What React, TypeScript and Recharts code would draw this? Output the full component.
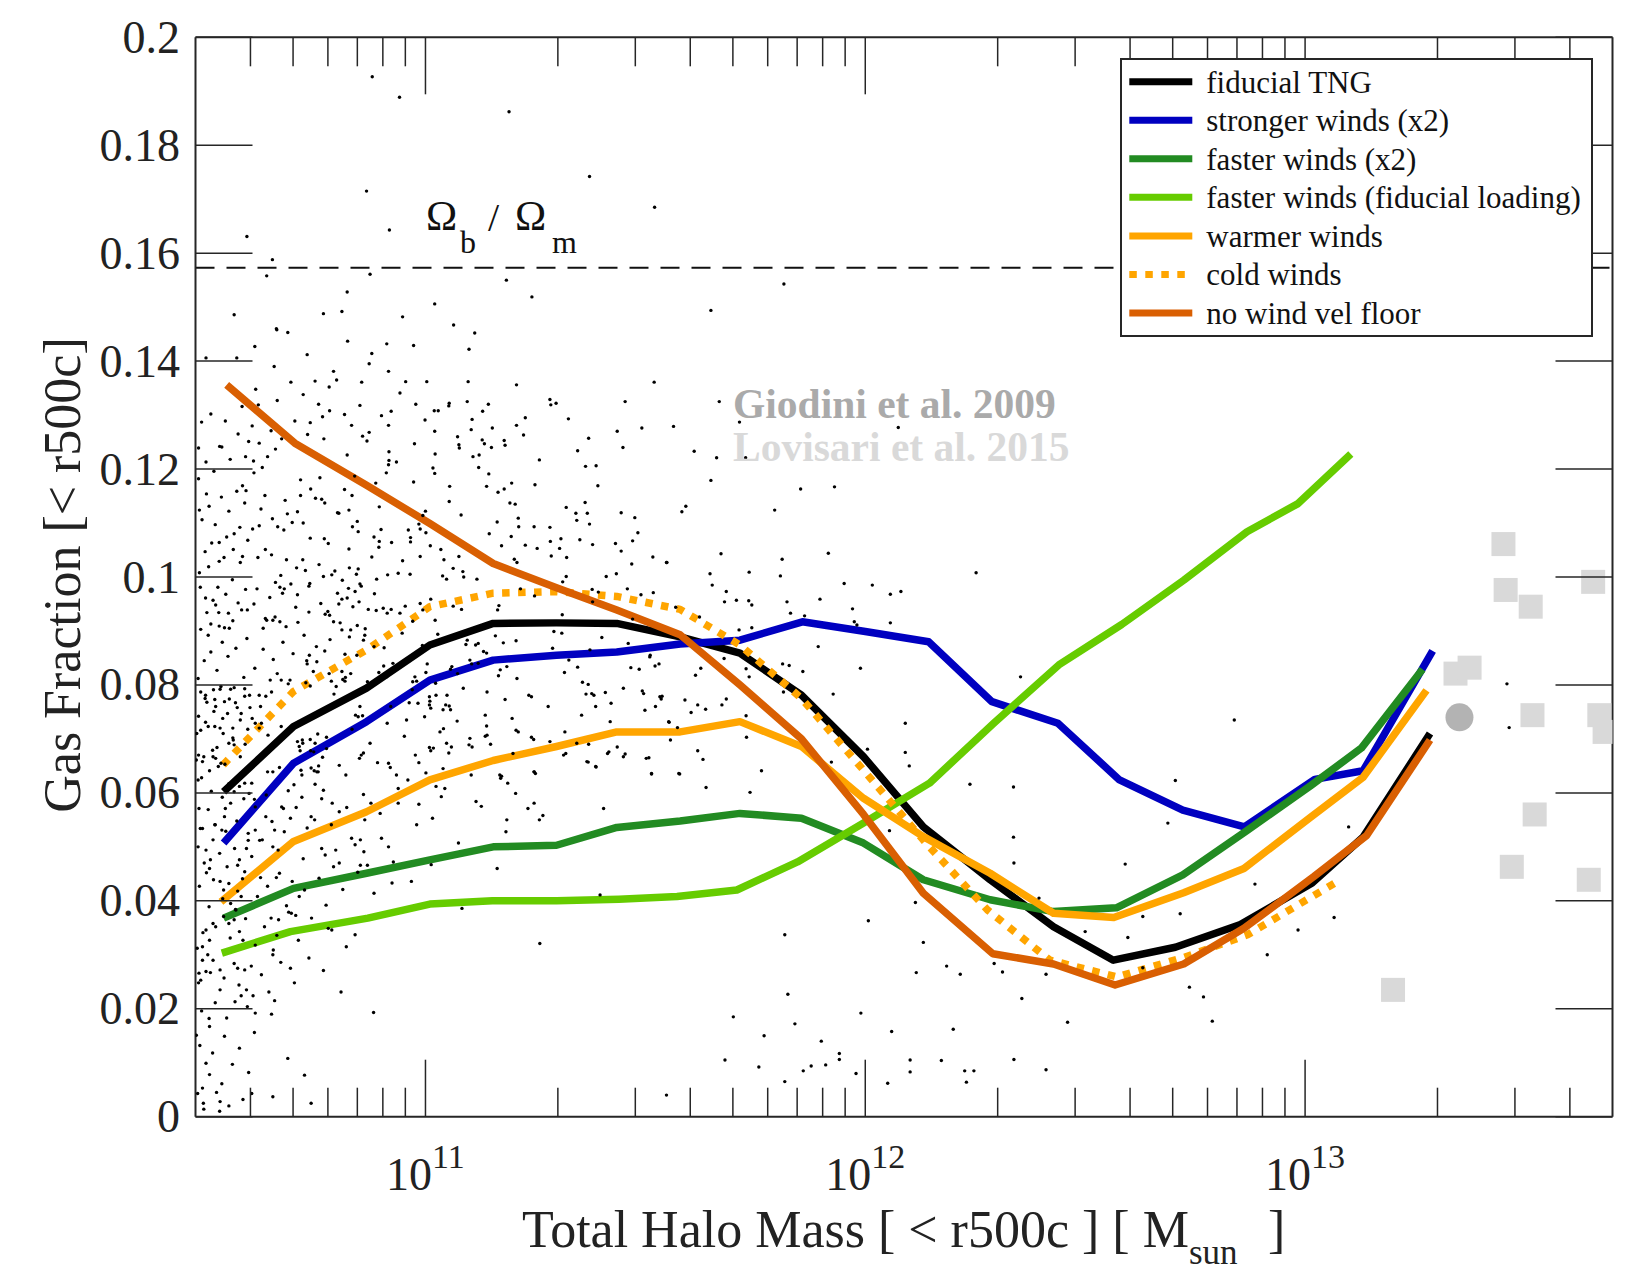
import React from 'react';
import { ComposedChart, Line, Scatter, XAxis, YAxis, ReferenceLine, Legend } from 'recharts';

const SERIF = "'Liberation Serif', 'Times New Roman', Times, serif";
const AXIS = '#262626';

// ---- axes ----
const X_MIN = Math.log10(3e10);
const X_MAX = Math.log10(5e13);
const MAJOR_MASS_TICKS = [1e11, 1e12, 1e13];
const MINOR_MASS_TICKS = [4e10, 5e10, 6e10, 7e10, 8e10, 9e10, 2e11, 3e11, 4e11, 5e11, 6e11, 7e11, 8e11, 9e11, 2e12, 3e12, 4e12, 5e12, 6e12, 7e12, 8e12, 9e12, 2e13, 3e13, 4e13];
const Y_TICKS = [0, 0.02, 0.04, 0.06, 0.08, 0.1, 0.12, 0.14, 0.16, 0.18, 0.2];
const OMEGA_B_OVER_M = 0.1573;

// ---- series: [log10 M500c, gas fraction] ----
const fiducialTNG = [[10.541,0.0602],[10.700,0.0723],[10.866,0.0794],[11.010,0.0874],[11.154,0.0914],[11.298,0.0915],[11.435,0.0914],[11.579,0.0889],[11.715,0.0859],[11.855,0.0781],[11.996,0.0667],[12.132,0.0537],[12.284,0.0439],[12.428,0.0352],[12.564,0.0290],[12.705,0.0314],[12.853,0.0356],[13.016,0.0433],[13.132,0.0518],[13.284,0.0710]];
const strongerWinds = [[10.541,0.0507],[10.700,0.0655],[10.866,0.0732],[11.010,0.0809],[11.154,0.0846],[11.298,0.0855],[11.435,0.0861],[11.579,0.0876],[11.715,0.0883],[11.857,0.0917],[12.000,0.0899],[12.144,0.0880],[12.288,0.0769],[12.438,0.0729],[12.578,0.0624],[12.722,0.0568],[12.862,0.0537],[13.022,0.0625],[13.132,0.0641],[13.290,0.0863]];
const fasterWinds = [[10.541,0.0368],[10.700,0.0423],[10.866,0.0451],[11.010,0.0476],[11.154,0.0500],[11.298,0.0503],[11.435,0.0536],[11.579,0.0548],[11.715,0.0562],[11.855,0.0553],[11.996,0.0507],[12.132,0.0439],[12.284,0.0402],[12.428,0.0380],[12.571,0.0387],[12.722,0.0448],[12.866,0.0529],[13.012,0.0613],[13.128,0.0683],[13.267,0.0829]];
const fasterWindsFidLoading = [[10.537,0.0303],[10.693,0.0343],[10.869,0.0368],[11.010,0.0394],[11.152,0.0400],[11.298,0.0400],[11.440,0.0403],[11.572,0.0408],[11.708,0.0420],[11.846,0.0472],[11.996,0.0544],[12.146,0.0618],[12.292,0.0729],[12.440,0.0837],[12.583,0.0912],[12.724,0.0994],[12.868,0.1084],[12.984,0.1136],[13.104,0.1228]];
const warmerWinds = [[10.535,0.0398],[10.700,0.0510],[10.866,0.0565],[11.010,0.0624],[11.154,0.0660],[11.298,0.0686],[11.435,0.0713],[11.579,0.0713],[11.715,0.0732],[11.855,0.0686],[11.996,0.0590],[12.132,0.0519],[12.284,0.0451],[12.428,0.0377],[12.565,0.0369],[12.724,0.0415],[12.861,0.0460],[13.011,0.0554],[13.132,0.0629],[13.276,0.0790]];
const coldWinds = [[10.540,0.0652],[10.700,0.0788],[10.866,0.0865],[11.010,0.0945],[11.154,0.0970],[11.298,0.0973],[11.435,0.0964],[11.579,0.0940],[11.715,0.0874],[11.855,0.0775],[11.996,0.0642],[12.138,0.0507],[12.278,0.0383],[12.420,0.0290],[12.572,0.0259],[12.724,0.0295],[12.869,0.0337],[13.068,0.0433]];
const noWindVelFloor = [[10.548,0.1356],[10.703,0.1248],[10.866,0.1170],[11.010,0.1099],[11.154,0.1025],[11.298,0.0980],[11.435,0.0939],[11.579,0.0893],[11.715,0.0800],[11.855,0.0700],[11.996,0.0560],[12.132,0.0414],[12.290,0.0302],[12.428,0.0283],[12.568,0.0244],[12.724,0.0283],[12.861,0.0349],[13.020,0.0445],[13.140,0.0521],[13.284,0.0698]];

// ---- observations ----
const giodini2009 = [[13.351,0.0740]];
const lovisari2015 = [[13.451,0.1061],[13.456,0.0976],[13.513,0.0945],[13.655,0.0991],[13.342,0.0821],[13.374,0.0832],[13.517,0.0744],[13.669,0.0744],[13.681,0.0713],[13.522,0.0560],[13.470,0.0463],[13.645,0.0439],[13.200,0.0235]];

// ---- individual haloes (fiducial TNG) ----
const haloScatter = [
[10.879,0.1927],[10.941,0.1889],[11.19,0.1862],[11.373,0.1742],[10.866,0.1715],[10.918,0.1643],[10.594,0.1631],[10.639,0.1558],[11.184,0.155],[11.242,0.1519],[10.822,0.1528],[10.81,0.1492],[10.565,0.1486],[10.661,0.146],[10.948,0.1482],[11.064,0.1467],[11.521,0.1685],[11.815,0.1543],[11.649,0.1494],
[11.668,0.1325],[11.714,0.1287],[12.075,0.1277],[11.611,0.1233],[11.662,0.1221],[11.728,0.1221],[11.649,0.1179],[11.853,0.1163],[11.930,0.1167],[11.592,0.1131],[11.583,0.1121],[11.794,0.1124],
[10.662,0.1458],[10.912,0.1432],[11.099,0.1422],[10.878,0.1414],[10.872,0.1395],[10.501,0.1406],[10.571,0.1406],[10.656,0.1390],[10.791,0.1381],[10.798,0.1365],[10.749,0.1363],[10.855,0.1361],[10.955,0.1362],[10.916,0.1381],[11.097,0.1362],[11.207,0.1356],[11.520,0.1361],[11.454,0.1325],[11.283,0.1329],[11.297,0.1322],[11.285,0.1319],[10.620,0.1319],[10.757,0.1320],[10.782,0.1308],[10.816,0.1301],[10.900,0.1299],[10.922,0.1307],[10.978,0.1320],[11.020,0.1308],[11.029,0.1308],[11.054,0.1322],[11.053,0.1317],[11.095,0.1325],[11.130,0.1307],[11.143,0.1320],[11.325,0.1293],[11.227,0.1295],[10.916,0.1281],[10.832,0.1281],[10.606,0.1280],[10.738,0.1286],[10.999,0.1291],[11.106,0.1292],[11.104,0.1273],[11.152,0.1276],[11.207,0.1281],[11.223,0.1263],[11.436,0.1270],[11.492,0.1276],[11.564,0.1279],[10.857,0.1261],[10.867,0.1252],[10.872,0.1268],[10.769,0.1256],[10.975,0.1247],[11.021,0.1270],[11.073,0.1260],[11.076,0.1245],[11.077,0.1239],[11.129,0.1254],[11.134,0.1247],[11.150,0.1240],[11.179,0.1253],[11.181,0.1244],[11.346,0.1234],[11.371,0.1257],[11.449,0.1240],[10.484,0.1239],[10.532,0.1242],[10.659,0.1237],[10.641,0.1223],[10.591,0.1223],[10.609,0.1215],[10.822,0.1226],[10.917,0.1232],[10.917,0.1216],[10.916,0.1208],[11.022,0.1228],[11.108,0.1223],[11.122,0.1226],[11.259,0.1217],[11.364,0.1205],[11.388,0.1206],[10.629,0.1203],[10.610,0.1193],[10.911,0.1193],[11.021,0.1192],[11.121,0.1203],[11.144,0.1191],[10.760,0.1184],[10.716,0.1180],[10.584,0.1169],[10.592,0.1160],[10.502,0.1154],[10.635,0.1151],[10.816,0.1162],[10.833,0.1151],[10.716,0.1151],[10.750,0.1146],[10.764,0.1144],[11.249,0.1171],[11.139,0.1168],[11.165,0.1157],[11.179,0.1163],[11.196,0.1174],[11.392,0.1169],[11.055,0.1168],[11.054,0.1140],[11.192,0.1137],[11.204,0.1135],[11.320,0.1129],[11.342,0.1118],[11.344,0.1105],[11.368,0.1118],[11.363,0.1138],[11.445,0.1119],[11.476,0.1110],[10.486,0.1124],[10.826,0.1124],[10.800,0.1119],[10.895,0.1130],[11.000,0.1122],[10.994,0.1114],[11.081,0.1115],[10.985,0.1098],[10.988,0.1089],[11.001,0.1082],[11.211,0.1109],[11.212,0.1093],[11.247,0.1093],[11.283,0.1092],[11.308,0.1071],[11.351,0.1069],[11.373,0.1098],[11.380,0.1060],[11.432,0.1062],[11.445,0.1048],[11.471,0.1067],[11.483,0.1082],[10.686,0.1117],[10.697,0.1101],[10.722,0.1100],[10.622,0.1095],[10.607,0.1089],[10.664,0.1093],[10.678,0.1087],[10.565,0.1080],[10.531,0.1064],[10.738,0.1072],[10.770,0.1071],[10.779,0.1062],[10.803,0.1118],[10.834,0.1093],[10.847,0.1084],[10.845,0.1103],[10.883,0.1074],[10.899,0.1088],[10.895,0.1066],[10.894,0.1055],[10.966,0.1073],[10.966,0.1065],[11.035,0.1051],[11.163,0.1102],[11.145,0.1080],[11.173,0.1058],[11.195,0.1075],[11.227,0.1059],[11.254,0.1053],[11.284,0.1066],[11.305,0.1053],[11.286,0.1039],[11.321,0.1036],[11.517,0.1037],[11.549,0.1027],[11.469,0.1024],[11.411,0.1001],[11.434,0.1006],[11.379,0.0977],[11.393,0.0972],[11.380,0.0954],[11.459,0.0978],[11.490,0.0967],[11.320,0.1001],[11.312,0.0991],[11.248,0.0965],[11.216,0.0978],[11.208,0.1027],[11.202,0.1033],[11.117,0.0996],[11.076,0.1038],[11.042,0.1032],[11.063,0.1016],[11.085,0.1010],[11.087,0.1000],[11.039,0.1002],[11.048,0.0996],[10.948,0.1030],[10.988,0.1038],[10.965,0.1005],[10.938,0.1007],[10.914,0.1004],[10.889,0.0996],[10.851,0.0987],[10.884,0.0969],[10.840,0.0973],[10.822,0.0961],[10.835,0.0945],[10.849,0.0954],[10.803,0.0950],[10.810,0.0959],[10.800,0.0970],[10.811,0.0994],[10.794,0.1011],[10.827,0.1017],[10.847,0.1015],[10.843,0.1005],[10.854,0.0983],[10.825,0.0979],[10.768,0.1001],[10.737,0.0988],[10.735,0.0983],[10.709,0.0967],[10.679,0.0978],[10.675,0.0970],[10.659,0.0990],[10.669,0.0981],[10.721,0.1032],[10.707,0.1017],[10.684,0.1032],[10.650,0.1041],[10.636,0.1051],[10.619,0.1036],[10.584,0.1038],[10.542,0.1036],[10.507,0.1019],[10.488,0.0981],[10.500,0.0961],[10.523,0.0948],[10.530,0.0934],[10.512,0.0913],[10.552,0.0933],[10.562,0.0919],[10.531,0.0909],[10.543,0.0906],[10.554,0.0905],[10.582,0.0939],[10.595,0.0939],[10.610,0.0950],[10.639,0.0920],[10.631,0.0905],[10.653,0.0920],[10.658,0.0926],[10.669,0.0917],[10.683,0.0908],[10.710,0.0916],[10.735,0.0935],[10.772,0.0931],[10.778,0.0936],[10.782,0.0929],[10.791,0.0917],[10.806,0.0915],[10.810,0.0902],[10.830,0.0902],[10.827,0.0889],[10.845,0.0910],[10.863,0.0904],[10.862,0.0892],[10.870,0.0940],[10.888,0.0938],[10.904,0.0942],[10.913,0.0933],[10.922,0.0940],[10.942,0.0933],[10.971,0.0918],[10.954,0.0946],[10.988,0.0951],[10.994,0.0939],[11.012,0.0959],[11.022,0.0920],[11.063,0.0946],[11.082,0.0940],[11.095,0.0883],[11.092,0.0875],[11.120,0.0877],[11.167,0.0947],[11.164,0.0939],[11.159,0.0891],[11.177,0.0878],[11.206,0.0882],[11.311,0.0930],[11.292,0.0899],[11.310,0.0896],[11.289,0.0868],[11.316,0.0823],[11.401,0.0888],[11.374,0.0865],[11.461,0.0877],[11.471,0.0922],[11.511,0.0855],[11.486,0.0829],[11.531,0.0839],[11.493,0.0789],[11.496,0.0784],[11.538,0.0779],[11.536,0.0774],[11.467,0.0832],[11.450,0.0794],[11.409,0.0786],[11.378,0.0784],[11.326,0.0846],[11.346,0.0833],[11.357,0.0805],[11.370,0.0801],[11.365,0.0783],[11.383,0.0781],[11.422,0.0766],[11.499,0.0753],[11.554,0.0731],[11.436,0.0685],[11.417,0.0676],[11.454,0.0672],[11.508,0.0665],[11.370,0.0657],[11.388,0.0648],[11.420,0.0732],[11.387,0.0760],[11.279,0.0760],[11.317,0.0713],[11.314,0.0670],[11.246,0.0699],[11.241,0.0703],[11.250,0.0636],[11.208,0.0812],[11.206,0.0716],[11.211,0.0713],[11.197,0.0738],[11.181,0.0773],[11.235,0.0781],[11.241,0.0778],[11.185,0.0834],[11.170,0.0828],[11.166,0.0817],[11.140,0.0787],[11.136,0.0744],[11.139,0.0724],[11.140,0.0707],[11.136,0.0705],[11.148,0.0690],[11.173,0.0631],[11.101,0.0701],[11.099,0.0689],[11.086,0.0794],[11.105,0.0839],[11.101,0.0846],[11.114,0.0874],[11.132,0.0862],[11.139,0.0859],[11.120,0.0840],[11.073,0.0821],[11.057,0.0829],[11.072,0.0733],[11.060,0.0834],[11.046,0.0763],[11.054,0.0761],[11.040,0.0754],[11.057,0.0754],[11.049,0.0781],[11.024,0.0781],[11.009,0.0778],[11.010,0.0770],[11.009,0.0763],[11.012,0.0757],[10.983,0.0766],[11.023,0.0803],[11.001,0.0823],[11.004,0.0839],[10.976,0.0815],[10.980,0.0807],[10.971,0.0806],[10.970,0.0791],[10.963,0.0767],[10.921,0.0760],[10.926,0.0840],[10.912,0.0815],[10.905,0.0835],[10.894,0.0823],[10.883,0.0871],[10.868,0.0806],[10.872,0.0802],[10.865,0.0797],[10.851,0.0760],[10.857,0.0743],[10.847,0.0741],[10.841,0.0744],[10.812,0.0810],[10.818,0.0814],[10.817,0.0807],[10.797,0.0797],[10.792,0.0783],[10.786,0.0807],[10.781,0.0821],[10.830,0.0821],[10.844,0.0855],[10.810,0.0825],[10.771,0.0863],[10.736,0.0855],[10.731,0.0839],[10.730,0.0845],[10.753,0.0843],[10.738,0.0798],[10.745,0.0825],[10.728,0.0804],[10.692,0.0809],[10.688,0.0802],[10.672,0.0809],[10.663,0.0821],[10.647,0.0809],[10.650,0.0787],[10.622,0.0781],[10.637,0.0779],[10.625,0.0760],[10.600,0.0781],[10.601,0.0758],[10.589,0.0779],[10.606,0.0738],[10.613,0.0729],[10.622,0.0720],[10.557,0.0792],[10.533,0.0792],[10.518,0.0791],[10.500,0.0781],[10.489,0.0787],[10.499,0.0775],[10.521,0.0773],[10.523,0.0760],[10.543,0.0769],[10.568,0.0767],[10.565,0.0795],[10.550,0.0747],[10.581,0.0747],[10.579,0.0735],[10.539,0.0738],[10.533,0.0720],[10.521,0.0723],[10.500,0.0731],[10.489,0.0716],[10.480,0.0710],[10.484,0.0670],[10.496,0.0667],[10.506,0.0723],[10.540,0.0710],[10.562,0.0720],[10.563,0.0698],[10.553,0.0692],[10.565,0.0689],[10.535,0.0655],[10.516,0.0679],[10.523,0.0664],[10.590,0.0690],[10.627,0.0729],[10.642,0.0707],[10.672,0.0723],[10.689,0.0710],[10.720,0.0698],[10.721,0.0692],[10.738,0.0699],[10.749,0.0692],[10.755,0.0709],[10.746,0.0676],[10.757,0.0650],[10.747,0.0641],[10.753,0.0639],[10.766,0.0666],[10.775,0.0682],[10.775,0.0703],[10.739,0.0678],[10.713,0.0686],[10.709,0.0695],[10.715,0.0678],[10.719,0.0633],[10.668,0.0647],[10.641,0.0639],[10.653,0.0639],[10.804,0.0651],[10.819,0.0633],[10.850,0.0664],[10.854,0.0670],[10.859,0.0674],[10.891,0.0656],[10.916,0.0655],[10.920,0.0647],[10.934,0.0633],[10.957,0.0735],[10.977,0.0670],[10.985,0.0656],[11.001,0.0637],[11.040,0.0645],[11.033,0.0713],[11.009,0.0684],[11.012,0.0678],[11.018,0.0683],[11.059,0.0685],[11.048,0.0692],[11.053,0.0674],[11.104,0.0633],[11.106,0.0685],[11.169,0.0633],[11.247,0.0639],[11.283,0.0695],[11.344,0.0692],[11.371,0.0690],[11.355,0.0744],
[10.479,0.0661],[10.493,0.0658],[10.483,0.0624],[10.517,0.0667],[10.529,0.0649],[10.485,0.0571],[10.493,0.0534],[10.483,0.0500],[10.501,0.0494],[10.511,0.0476],[10.497,0.0470],[10.509,0.0460],[10.517,0.0513],[10.521,0.0541],[10.537,0.0531],[10.545,0.0571],[10.543,0.0556],[10.557,0.0581],[10.565,0.0602],[10.577,0.0612],[10.589,0.0618],[10.605,0.0618],[10.599,0.0599],[10.613,0.0574],[10.637,0.0556],[10.613,0.0531],[10.597,0.0525],[10.593,0.0497],[10.605,0.0482],[10.577,0.0476],[10.589,0.0454],[10.573,0.0466],[10.553,0.0432],[10.533,0.0436],[10.541,0.0420],[10.557,0.0395],[10.581,0.0408],[10.569,0.0383],[10.541,0.0371],[10.553,0.0358],[10.517,0.0358],[10.501,0.0346],[10.509,0.0327],[10.493,0.0315],[10.505,0.0300],[10.493,0.0290],[10.517,0.0290],[10.485,0.0266],[10.489,0.0253],[10.501,0.0269],[10.533,0.0272],[10.565,0.0284],[10.573,0.0275],[10.589,0.0272],[10.585,0.0327],[10.577,0.0343],[10.565,0.0365],[10.533,0.0235],[10.567,0.0213],[10.593,0.0235],[10.595,0.0204],[10.508,0.0182],[10.509,0.0167],[10.479,0.0151],[10.501,0.0099],[10.493,0.0053],[10.495,0.0025],[10.496,0.0014],[10.525,0.0045],[10.533,0.0028],[10.532,0.0010],[10.553,0.0020],[10.585,0.0032],[10.605,0.0043],[10.653,0.0037],[10.740,0.0025],[10.725,0.0077],[10.687,0.0108],[10.650,0.0190],[10.808,0.0231],[10.882,0.0193],[10.653,0.0300],[10.654,0.0309],[10.693,0.0275],[10.695,0.0377],[10.689,0.0379],[10.705,0.0373],[10.725,0.0420],[10.713,0.0408],[10.666,0.0365],[10.649,0.0368],[10.661,0.0443],[10.625,0.0443],[10.629,0.0513],[10.657,0.0531],[10.665,0.0494],[10.653,0.0500],[10.673,0.0574],[10.677,0.0571],[10.693,0.0553],[10.701,0.0615],[10.717,0.0642],[10.740,0.0646],[10.756,0.0639],[10.768,0.0605],[10.740,0.0556],[10.748,0.0550],[10.788,0.0581],[10.804,0.0565],[10.772,0.0485],[10.764,0.0497],[10.796,0.0494],[10.787,0.0346],[10.804,0.0470],[10.820,0.0315],[10.840,0.0337],[10.832,0.0516],[10.840,0.0504],[10.852,0.0513],[10.852,0.0466],[10.868,0.0466],[10.860,0.0491],[10.862,0.0550],[10.876,0.0581],[10.900,0.0516],[10.916,0.0500],[10.924,0.0433],[10.938,0.0581],[10.960,0.0624],[10.980,0.0541],[11.016,0.0553],[11.024,0.0612],[11.044,0.0608],[11.075,0.0507],[11.083,0.0386],[11.115,0.0584],[11.127,0.0575],[11.163,0.0460],[11.171,0.0627],[11.187,0.0618],[11.185,0.0550],[11.183,0.0528],[11.205,0.0599],[11.233,0.0571],[11.247,0.0581],[11.247,0.0639],[11.259,0.0550],[11.267,0.0558],[11.260,0.0321],[11.319,0.0673],[11.367,0.0658],[11.387,0.0649],[11.405,0.0571],[11.397,0.0411],[11.414,0.0673],[11.450,0.0667],[11.514,0.0636],[11.576,0.0636],[11.502,0.0664],[11.548,0.0040],[11.199,0.0673],
[11.672,0.1043],[11.916,0.1044],[11.811,0.1033],[11.548,0.1027],[11.647,0.1006],[11.736,0.1009],[11.807,0.1002],[12.252,0.1008],[11.952,0.0988],[12.016,0.0985],[11.652,0.0985],[12.057,0.0968],[12.081,0.0973],[11.684,0.0973],[11.680,0.0954],[11.707,0.0957],[11.735,0.0956],[11.742,0.0948],[11.822,0.0954],[11.897,0.0959],[11.971,0.0941],[11.83,0.0933],[11.862,0.0928],[11.975,0.0917],[11.981,0.0911],[12.057,0.0915],[11.623,0.0926],[11.569,0.0944],[11.518,0.0971],[11.713,0.0902],[11.742,0.0906],[11.893,0.0871],[11.679,0.0849],[11.729,0.0830],[11.812,0.0839],[11.827,0.0836],[11.858,0.0825],[11.989,0.0831],[12.353,0.0815],[11.522,0.0835],[11.51,0.0852],[11.626,0.0831],[11.614,0.0818],[11.736,0.0815],[11.814,0.0787],[11.927,0.0783],[11.533,0.0778],[11.590,0.0772],[11.619,0.0763],[11.637,0.0755],[11.674,0.0763],[11.684,0.0774],[11.604,0.0749],[11.523,0.0760],[11.729,0.0743],[11.553,0.0732],[12.091,0.0729],[11.573,0.0721],[11.557,0.0698],[11.730,0.0703],[12.005,0.0681],[11.619,0.0678],[12.091,0.0675],[11.631,0.0662],[11.923,0.0657],[12.100,0.0650],[11.514,0.0635],[11.578,0.0635],[11.764,0.0641],[11.638,0.0610],[11.738,0.0601],[12.238,0.0616],[12.337,0.0611],[12.055,0.0530],[12.337,0.0518],[12.338,0.0470],[12.591,0.0468],[12.114,0.0397],[12.395,0.0405],[12.631,0.0371],[12.007,0.0363],[12.500,0.0343],[12.597,0.0332],[11.817,0.0337],[12.132,0.0323],[12.185,0.0279],[12.293,0.0284],[12.312,0.0268],[12.216,0.0264],[12.116,0.0267],[12.411,0.0264],[12.631,0.0276],[11.824,0.0227],[12.356,0.0219],
[12.839,0.0735],[12.705,0.0623],[12.688,0.0544],[13.099,0.0537],[12.716,0.0376],[12.886,0.0431],[13.066,0.0369],[12.984,0.0346],[12.914,0.0300],[12.737,0.0240],[12.769,0.0222],[12.789,0.0177],[13.459,0.0802],[13.464,0.0721],
[11.681,0.0105],[11.758,0.0092],[11.817,0.0065],[11.859,0.0085],[11.877,0.0094],[11.910,0.0096],[11.941,0.0117],[11.941,0.0106],[11.979,0.0080],[12.051,0.0062],[12.102,0.0105],[12.102,0.0083],[12.173,0.0104],[12.226,0.0085],[12.247,0.0085],[12.230,0.0064],[12.338,0.0106],[12.411,0.0087],
[11.70,0.0185],[11.77,0.0150],[11.84,0.0172],[11.90,0.0140],[11.99,0.0192],[12.06,0.0158],[12.20,0.0162],[12.46,0.0175],
[10.483,0.0812],[10.497,0.0845],[10.512,0.0861],[10.526,0.0827],[10.538,0.0879],[10.551,0.0853],[10.569,0.0868],[10.587,0.0814],[10.594,0.0886],[10.489,0.0903],[10.503,0.0934],[10.517,0.0957],[10.528,0.0981],[10.546,0.0968],[10.561,0.0995],[10.574,0.0952],[10.591,0.0977],[10.486,0.1008],[10.499,0.1047],[10.514,0.1063],[10.531,0.1029],[10.548,0.1074],[10.563,0.1051],[10.578,0.1092],[10.596,0.1068],[10.492,0.1106],[10.508,0.1131],[10.522,0.1097],[10.536,0.1148],[10.553,0.1122],[10.571,0.1159],[10.589,0.1137],[10.484,0.1182],[10.501,0.1213],[10.519,0.1196],[10.537,0.1241],[10.556,0.1218],[10.574,0.1265],[10.598,0.1251],[10.491,0.1287],[10.512,0.1302],[10.545,0.1289],[10.583,0.1316],[10.506,0.0892],[10.579,0.1027],
[10.481,0.0312],[10.494,0.0341],[10.508,0.0389],[10.523,0.0352],[10.539,0.0404],[10.556,0.0331],[10.573,0.0418],[10.591,0.0367],[10.486,0.0427],[10.502,0.0452],[10.518,0.0439],[10.532,0.0488],[10.549,0.0463],[10.566,0.0497],[10.584,0.0441],[10.597,0.0512],[10.488,0.0534],[10.506,0.0569],[10.522,0.0541],[10.538,0.0592],[10.553,0.0617],[10.571,0.0548],[10.587,0.0589],[10.491,0.0628],[10.509,0.0641],[10.526,0.0684],[10.544,0.0653],[10.562,0.0702],[10.579,0.0667],[10.596,0.0718],[10.484,0.0742],[10.503,0.0768],[10.519,0.0751],[10.535,0.0797],[10.554,0.0774],[10.572,0.0758],[10.589,0.0793],[10.513,0.0603],[10.546,0.0529],[10.568,0.0384],
[10.608,0.0224],[10.627,0.0263],[10.644,0.0231],[10.671,0.0286],[10.702,0.0248],[10.735,0.0294],[10.768,0.0271],[10.613,0.0318],[10.634,0.0352],[10.662,0.0336],[10.684,0.0391],[10.711,0.0327],[10.741,0.0368],[10.779,0.0349],[10.618,0.0408],[10.641,0.0427],[10.668,0.0451],[10.697,0.0436],[10.722,0.0478],[10.758,0.0442],[10.791,0.0463],[10.623,0.0512],[10.651,0.0547],[10.679,0.0528],[10.706,0.0573],[10.731,0.0535],[10.764,0.0589],[10.786,0.0541],[10.611,0.0588],[10.638,0.0596],[10.688,0.0604],[10.719,0.0592],[10.749,0.0616],[10.774,0.0392],[10.657,0.0215],
[10.612,0.0831],[10.631,0.0866],[10.654,0.0847],[10.676,0.0879],[10.699,0.0858],[10.724,0.0892],[10.752,0.0871],[10.783,0.0884],[10.617,0.0978],[10.646,0.0962],[10.671,0.1003],[10.694,0.0987],[10.727,0.1012],[10.758,0.1023],[10.787,0.1004],[10.626,0.1126],[10.652,0.1108],[10.681,0.1142],[10.709,0.1121],[10.739,0.1163],[10.771,0.1137],[10.622,0.1248],[10.649,0.1271],[10.673,0.1256],[10.703,0.1289],[10.732,0.1264],[10.766,0.1297],[10.614,0.1348],[10.663,0.1327],[10.694,0.1361],[10.722,0.1338],[10.781,0.1352],[10.636,0.0923],[10.705,0.0944],[10.762,0.0951],
[10.812,0.0421],[10.846,0.0453],[10.883,0.0414],[10.927,0.0472],[10.968,0.0436],[11.013,0.0467],[10.821,0.0573],[10.859,0.0597],[10.897,0.0562],[10.938,0.0608],[10.985,0.0579],[11.036,0.0593],[10.833,0.0718],[10.874,0.0692],[10.913,0.0729],[10.952,0.0705],[10.998,0.0741],[11.041,0.0719],[10.817,0.0857],[10.859,0.0883],[10.906,0.0869],[10.947,0.0896],[10.993,0.0873],[11.028,0.0894],[10.826,0.1052],[10.878,0.1037],[10.923,0.1064],[10.961,0.1087],[11.011,0.1058],[10.839,0.1187],[10.887,0.1174],[10.934,0.1213],[10.973,0.1176],[11.017,0.1202],[10.851,0.1318],[10.942,0.1341],[11.003,0.1362],
[10.482,0.0043],[10.509,0.0078],[10.537,0.0061],[10.561,0.0097],[10.598,0.0082],[10.487,0.0132],[10.516,0.0118],[10.543,0.0149],[10.577,0.0127],[10.611,0.0156],[10.491,0.0196],[10.522,0.0211],[10.548,0.0183],[10.581,0.0224],[10.613,0.0192],[10.484,0.0248],[10.511,0.0267],[10.542,0.0257],[10.576,0.0244],[10.604,0.0279],
[10.612,0.1427],[10.687,0.1453],[10.731,0.1412],[10.768,0.1488],[10.823,0.1437],[10.874,0.1561],[10.973,0.1429],[11.021,0.1506],[10.652,0.1588],[11.112,0.1452]
];

const toPts = (arr: number[][]) => arr.map(([x, y]) => ({ x, y }));

const SERIES = [
  { key: 'fid', name: 'fiducial TNG', color: '#000000', data: fiducialTNG, dash: undefined as string | undefined },
  { key: 'strong', name: 'stronger winds (x2)', color: '#0000C0', data: strongerWinds, dash: undefined },
  { key: 'fast', name: 'faster winds (x2)', color: '#228B22', data: fasterWinds, dash: undefined },
  { key: 'fastfid', name: 'faster winds (fiducial loading)', color: '#66CC00', data: fasterWindsFidLoading, dash: undefined },
  { key: 'warm', name: 'warmer winds', color: '#FFA500', data: warmerWinds, dash: undefined },
  { key: 'cold', name: 'cold winds', color: '#FFA500', data: coldWinds, dash: '7.5 8.5' },
  { key: 'nofloor', name: 'no wind vel floor', color: '#D95F02', data: noWindVelFloor, dash: undefined },
];

const MAJOR_LEN = 57;
const MINOR_LEN = 29;
const X_TICKS = [...MINOR_MASS_TICKS, ...MAJOR_MASS_TICKS].map((m) => Math.log10(m)).sort((a, b) => a - b);
const isMajor = (v: number) => Math.abs(v - Math.round(v)) < 1e-6;

const BottomTick = (props: any) => {
  const { x, y, payload } = props;
  const v = payload.value;
  const major = isMajor(v);
  return (
    <g>
      <line x1={x} x2={x} y1={y} y2={y - (major ? MAJOR_LEN : MINOR_LEN)} stroke={AXIS} strokeWidth={1.5} />
      {major && (
        <text x={x} y={y + 73.3} textAnchor="middle" fontSize={46} fontFamily={SERIF} fill="#222">
          10<tspan dy={-21.7} fontSize={34}>{Math.round(v)}</tspan>
        </text>
      )}
    </g>
  );
};
const TopTick = (props: any) => {
  const { x, y, payload } = props;
  const major = isMajor(payload.value);
  return <line x1={x} x2={x} y1={y} y2={y + (major ? MAJOR_LEN : MINOR_LEN)} stroke={AXIS} strokeWidth={1.5} />;
};
const fmtY = (v: number) => String(Number(v.toFixed(2)));
const LeftTick = (props: any) => {
  const { x, y, payload } = props;
  return (
    <g>
      <line x1={x} x2={x + MAJOR_LEN} y1={y} y2={y} stroke={AXIS} strokeWidth={1.5} />
      <text x={x - 15.5} y={y + 15.5} textAnchor="end" fontSize={46} fontFamily={SERIF} fill="#222">
        {fmtY(payload.value)}
      </text>
    </g>
  );
};
const RightTick = (props: any) => {
  const { x, y } = props;
  return <line x1={x} x2={x - MAJOR_LEN} y1={y} y2={y} stroke={AXIS} strokeWidth={1.5} />;
};

const HaloDot = (p: any) => <circle cx={p.cx} cy={p.cy} r={1.7} fill="#000" />;
const LovisariSquare = (p: any) => <rect x={p.cx - 12} y={p.cy - 12} width={24} height={24} fill="#D9D9D9" />;
const GiodiniCircle = (p: any) => <circle cx={p.cx} cy={p.cy} r={14} fill="#B3B3B3" />;

const LegendBox = () => (
  <svg width={473} height={279} style={{ display: 'block' }}>
    <rect x={1} y={1} width={471} height={277} fill="#fff" stroke={AXIS} strokeWidth={2} />
    {SERIES.map((s, i) => {
      const cy = 23.7 + i * 38.55;
      return (
        <g key={s.key}>
          <line x1={9.3} x2={72.3} y1={cy} y2={cy} stroke={s.color} strokeWidth={7} strokeDasharray={s.dash} />
          <text x={86.3} y={cy + 10.8} fontSize={31} fontFamily={SERIF} fill="#111">{s.name}</text>
        </g>
      );
    })}
  </svg>
);

export default function App() {
  const W = 1650;
  const H = 1275;
  // plot area: left 195.5, right 1612.5, top 37.3, bottom 1116.7 (axes take 1px each)
  const margin = { top: 36.3, right: 36.5, bottom: 157.3, left: 194.5 };
  return (
    <div style={{ position: 'absolute', left: 0, top: 0, width: W, height: H, background: '#fff' }}>
      <ComposedChart width={W} height={H} margin={margin}>
        <XAxis xAxisId="b" type="number" dataKey="x" domain={[X_MIN, X_MAX]} allowDataOverflow ticks={X_TICKS}
          interval={0} height={1} tickSize={0} tickMargin={0} tickLine={false} tick={<BottomTick />}
          axisLine={{ stroke: AXIS, strokeWidth: 2 }} orientation="bottom" />
        <XAxis xAxisId="t" type="number" dataKey="x" domain={[X_MIN, X_MAX]} allowDataOverflow ticks={X_TICKS}
          interval={0} height={1} tickSize={0} tickMargin={0} tickLine={false} tick={<TopTick />}
          axisLine={{ stroke: AXIS, strokeWidth: 2 }} orientation="top" />
        <YAxis yAxisId="l" type="number" dataKey="y" domain={[0, 0.2]} allowDataOverflow ticks={Y_TICKS}
          interval={0} width={1} tickSize={0} tickMargin={0} tickLine={false} tick={<LeftTick />}
          axisLine={{ stroke: AXIS, strokeWidth: 2 }} orientation="left" />
        <YAxis yAxisId="r" type="number" dataKey="y" domain={[0, 0.2]} allowDataOverflow ticks={Y_TICKS}
          interval={0} width={1} tickSize={0} tickMargin={0} tickLine={false} tick={<RightTick />}
          axisLine={{ stroke: AXIS, strokeWidth: 2 }} orientation="right" />

        <ReferenceLine xAxisId="b" yAxisId="l" y={OMEGA_B_OVER_M} stroke="#111" strokeWidth={1.8} strokeDasharray="19 12" />

        <Scatter xAxisId="b" yAxisId="l" name="haloes" data={toPts(haloScatter)} shape={HaloDot} isAnimationActive={false} />

        {SERIES.map((s) => (
          <Line key={s.key} xAxisId="b" yAxisId="l" name={s.name} data={toPts(s.data)} dataKey="y" type="linear"
            stroke={s.color} strokeWidth={7.5} strokeDasharray={s.dash} dot={false} activeDot={false}
            strokeLinejoin="round" isAnimationActive={false} legendType="line" />
        ))}

        <Scatter xAxisId="b" yAxisId="l" name="Lovisari et al. 2015" data={toPts(lovisari2015)} shape={LovisariSquare} isAnimationActive={false} />
        <Scatter xAxisId="b" yAxisId="l" name="Giodini et al. 2009" data={toPts(giodini2009)} shape={GiodiniCircle} isAnimationActive={false} />

        <Legend layout="horizontal" verticalAlign="middle" align="center" content={() => <LegendBox />}
          wrapperStyle={{ position: 'absolute', left: 1120, top: 57.5, width: 473, height: 279 }} />
      </ComposedChart>

      <svg width={W} height={H} style={{ position: 'absolute', left: 0, top: 0, pointerEvents: 'none' }}>
        <text transform="translate(80,575) rotate(-90)" textAnchor="middle" fontSize={52} fontFamily={SERIF} fill="#222">
          Gas Fraction [&lt; r500c]
        </text>
        <text x={522} y={1247} fontSize={52} fontFamily={SERIF} fill="#222">
          Total Halo Mass [ &lt; r500c ] [ M<tspan dy={17} fontSize={35}>sun</tspan><tspan x={1268} dy={-17} fontSize={52}>]</tspan>
        </text>
        <text x={426} y={230} fontSize={42} fontFamily={SERIF} fill="#111">Ω</text>
        <text x={460} y={253} fontSize={32} fontFamily={SERIF} fill="#111">b</text>
        <text x={488} y={231} fontSize={40} fontFamily={SERIF} fill="#111">/</text>
        <text x={515} y={230} fontSize={42} fontFamily={SERIF} fill="#111">Ω</text>
        <text x={552} y={253} fontSize={32} fontFamily={SERIF} fill="#111">m</text>
        <text x={733} y={418} fontSize={41.5} fontWeight="bold" fontFamily={SERIF} fill="#AAAAAA">Giodini et al. 2009</text>
        <text x={733} y={461} fontSize={41.5} fontWeight="bold" fontFamily={SERIF} fill="#D9D9D9">Lovisari et al. 2015</text>
      </svg>
    </div>
  );
}
